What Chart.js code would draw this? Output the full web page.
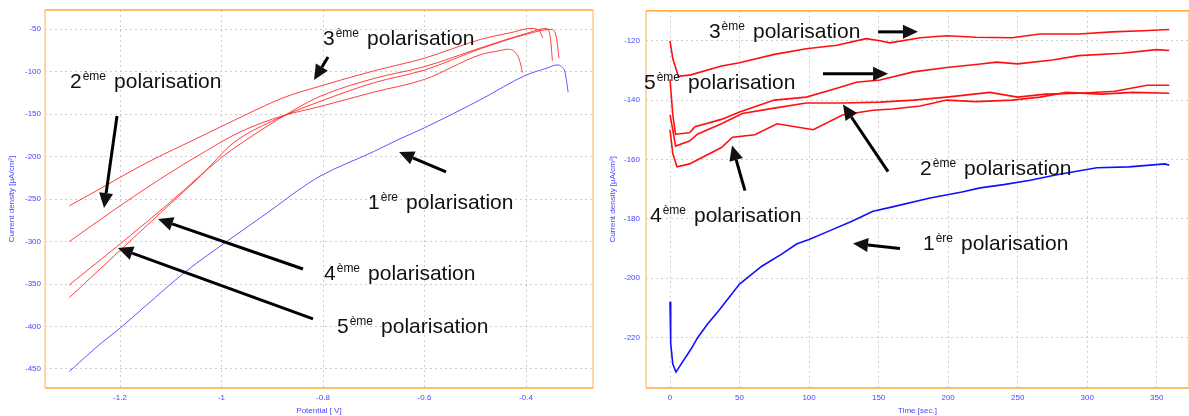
<!DOCTYPE html>
<html lang="fr">
<head>
  <meta charset="UTF-8" />
  <title>Polarisations</title>
  <!-- Chart.js -->
  <script src="https://cdn.jsdelivr.net/npm/chart.js"></script>
  <style>
    html, body { margin: 0; padding: 0; background: #fff; }
    body { width: 1189px; height: 416px; position: relative; overflow: hidden; }
    #potentialChart { position: absolute; left: 0; top: 0; }
    #timeChart { position: absolute; left: 594px; top: 0; }
  </style>
</head>
<body>
  <canvas id="potentialChart" width="594" height="416"></canvas>
  <canvas id="timeChart" width="595" height="416"></canvas>

  <script>
    // ---- Left panel: current density vs potential ----
    const potentialTicks = [-1.2, -1, -0.8, -0.6, -0.4];
    const potCurrentTicks = [-50, -100, -150, -200, -250, -300, -350, -400, -450];

    // 1ère polarisation (blue)
    const pot1 = [-1.30, -1.24, -1.20, -1.15, -1.07, -0.99, -0.90, -0.85, -0.806, -0.70, -0.652, -0.60, -0.49, -0.40, -0.36, -0.339, -0.33, -0.323, -0.317];
    const cur1 = [-453, -421, -402, -376, -335, -300, -262, -240, -223, -194, -180, -166, -133, -104, -96, -92, -94, -101, -124];
    // 3ème polarisation
    const pot3 = [-1.30, -1.24, -1.15, -1.04, -0.95, -0.88, -0.806, -0.70, -0.60, -0.49, -0.43, -0.39, -0.375, -0.367];
    const cur3 = [-258, -238, -208, -176, -150, -131, -117, -99, -84, -62, -54, -49, -51, -60];
    // 2ème polarisation
    const pot2 = [-1.30, -1.21, -1.12, -1.03, -0.96, -0.88, -0.806, -0.70, -0.60, -0.49, -0.45, -0.437, -0.42, -0.412, -0.407];
    const cur2 = [-300, -262, -226, -193, -170, -152, -141, -124, -109, -80, -75, -73.5, -78, -88, -101];
    // 5ème polarisation
    const pot5 = [-1.30, -1.19, -1.10, -1.00, -0.92, -0.86, -0.806, -0.70, -0.60, -0.49, -0.40, -0.36, -0.352, -0.348];
    const cur5 = [-351, -298, -253, -201, -168, -146, -129, -108, -94, -72, -55, -49, -60, -87];
    // 4ème polarisation
    const pot4 = [-1.30, -1.21, -1.12, -1.04, -0.977, -0.90, -0.806, -0.70, -0.60, -0.49, -0.40, -0.35, -0.34, -0.335];
    const cur4 = [-366, -316, -266, -222, -184, -158, -135, -113, -98, -73, -56, -50, -60, -84];

    // ---- Right panel: current density vs time ----
    const timeTicks = [0, 50, 100, 150, 200, 250, 300, 350];
    const timeCurrentTicks = [-120, -140, -160, -180, -200, -220];

    const timeBlue = [0, 0.5, 2, 4.3, 8, 15, 20, 27, 35, 50, 66, 80, 91, 100, 115, 130, 146, 160, 187, 210, 223, 240, 259, 280, 307, 330, 356, 359];
    const curBlue = [-208, -222, -229, -231.7, -229, -224, -220, -215.5, -211, -202, -196, -192, -188.5, -187, -184, -181, -177.5, -176, -173, -171, -169.6, -168.5, -167, -165, -162.8, -162.5, -161.5, -162];

    const timeRed3 = [0, 2, 6, 15, 37, 50, 75, 98, 120, 141, 151, 158, 180, 199, 220, 246, 266, 294, 318, 340, 359];
    const curRed3 = [-120, -126, -132, -131.5, -128.5, -127.4, -124.6, -122.7, -121.5, -119.3, -120, -120.7, -119, -118.3, -118.8, -119, -117.7, -117.7, -117, -116.6, -116.2];

    const timeRed5 = [0, 2, 4, 14, 18, 37, 50, 75, 98, 120, 134, 151, 175, 199, 220, 235, 250, 275, 294, 325, 350, 359];
    const curRed5 = [-133, -145, -151.5, -151, -149, -146.5, -144, -140, -139, -136, -134, -133.2, -130.5, -129, -128, -127.2, -127.8, -126.5, -125, -124.2, -123, -123.3];

    const timeRed2 = [0, 2, 4, 14, 20, 37, 52, 75, 98, 124, 151, 175, 199, 230, 250, 270, 294, 320, 343, 359];
    const curRed2 = [-145, -150, -155.5, -153.8, -151.4, -148, -144.5, -142.7, -141, -141, -140.7, -140, -139, -137.4, -139, -138, -137.7, -137, -135, -135];

    const timeRed4 = [0, 2, 5, 14, 37, 45, 61, 77, 90, 103, 124, 146, 160, 180, 199, 220, 246, 266, 285, 310, 333, 359];
    const curRed4 = [-150, -158, -162.5, -161.5, -156, -152.5, -151.7, -148, -149, -150, -145, -143.4, -143, -142, -140, -140.5, -140, -139, -137.4, -138, -137.4, -137.7];

    // Annotations (text anchor and arrow in data units)
    const leftNotes = [
      { num: '2', sup: 'ème', x: -1.2985, y: -119.1, from: [-1.2059, -152.1], to: [-1.2315, -260.4] },
      { num: '3', sup: 'ème', x: -0.80, y: -68.5, from: [-0.7901, -82.6], to: [-0.8177, -109.7] },
      { num: '1', sup: 'ère', x: -0.7113, y: -261.6, from: [-0.5576, -218.0], to: [-0.6502, -194.5] },
      { num: '4', sup: 'ème', x: -0.798, y: -345.2, from: [-0.8394, -332.3], to: [-1.1251, -273.4] },
      { num: '5', sup: 'ème', x: -0.7724, y: -407.6, from: [-0.8197, -391.1], to: [-1.2039, -307.5] }
    ];
    const rightNotes = [
      { num: '3', sup: 'ème', x: 28.0, y: -119.0, from: [149.6, -117.0], to: [178.3, -117.0] },
      { num: '5', sup: 'ème', x: -18.7, y: -136.1, from: [110.0, -131.1], to: [156.8, -131.1] },
      { num: '2', sup: 'ème', x: 179.8, y: -165.4, from: [156.8, -164.1], to: [124.4, -141.5] },
      { num: '4', sup: 'ème', x: -14.4, y: -181.1, from: [53.9, -170.5], to: [44.6, -155.3] },
      { num: '1', sup: 'ère', x: 181.9, y: -190.6, from: [165.4, -190.0], to: [131.6, -188.3] }
    ];

    const FONT = '"Liberation Sans", Arial, sans-serif';
    const tickBlue = '#4646ff';

    function zip(xs, ys) {
      return xs.map((x, i) => ({ x: x, y: ys[i] }));
    }

    function fmt(v) {
      return String(Math.round(v * 100) / 100);
    }

    function drawArrow(ctx, x1, y1, x2, y2) {
      const ang = Math.atan2(y2 - y1, x2 - x1);
      const head = 15, half = 7;
      const bx = x2 - head * Math.cos(ang), by = y2 - head * Math.sin(ang);
      ctx.beginPath();
      ctx.moveTo(x1, y1);
      ctx.lineTo(bx, by);
      ctx.stroke();
      ctx.beginPath();
      ctx.moveTo(x2, y2);
      ctx.lineTo(bx + half * Math.sin(ang), by - half * Math.cos(ang));
      ctx.lineTo(bx - half * Math.sin(ang), by + half * Math.cos(ang));
      ctx.closePath();
      ctx.fill();
    }

    // frame + big labels with arrows
    function framePlugin(notes) {
      return {
        id: 'frameNotes',
        afterDraw(chart) {
          const { ctx, chartArea: a, scales: { x, y } } = chart;
          ctx.save();
          ctx.lineWidth = 2;
          ctx.strokeStyle = '#ffd6a6';
          ctx.beginPath();
          ctx.moveTo(a.left, a.top); ctx.lineTo(a.left, a.bottom);
          ctx.moveTo(a.right, a.top); ctx.lineTo(a.right, a.bottom);
          ctx.stroke();
          ctx.lineWidth = 1.5;
          ctx.strokeStyle = '#ffa63c';
          ctx.beginPath();
          ctx.moveTo(a.left, a.top); ctx.lineTo(a.right, a.top);
          ctx.moveTo(a.left, a.bottom); ctx.lineTo(a.right, a.bottom);
          ctx.stroke();

          ctx.fillStyle = '#111';
          ctx.strokeStyle = '#000';
          ctx.lineWidth = 3;
          ctx.textBaseline = 'alphabetic';
          ctx.textAlign = 'left';
          notes.forEach(n => {
            const px = x.getPixelForValue(n.x), py = y.getPixelForValue(n.y);
            ctx.font = '21px ' + FONT;
            ctx.fillText(n.num, px, py);
            let cx = px + ctx.measureText(n.num).width + 1;
            ctx.font = '12px ' + FONT;
            ctx.fillText(n.sup, cx, py - 8);
            cx += ctx.measureText(n.sup).width + 8;
            ctx.font = '21px ' + FONT;
            ctx.fillText('polarisation', cx, py);
            drawArrow(ctx,
              x.getPixelForValue(n.from[0]), y.getPixelForValue(n.from[1]),
              x.getPixelForValue(n.to[0]), y.getPixelForValue(n.to[1]));
          });
          ctx.restore();
        }
      };
    }

    function makeScales(c) {
      const small = { family: FONT, size: 8 };
      return {
        x: {
          type: 'linear', min: c.xMin, max: c.xMax,
          afterBuildTicks: s => { s.ticks = c.xTicks.map(v => ({ value: v })); },
          afterFit: s => { s.height = 28; },
          grid: { color: '#cdcdcd', drawTicks: false },
          border: { display: false, dash: [2, 3] },
          ticks: { color: tickBlue, font: small, padding: 5, maxRotation: 0, autoSkip: false, callback: v => fmt(v) },
          title: { display: true, text: c.xTitle, color: tickBlue, font: small, padding: 0 }
        },
        y: {
          type: 'linear', min: c.yMin, max: c.yMax,
          afterBuildTicks: s => { s.ticks = c.yTicks.map(v => ({ value: v })); },
          afterFit: s => { s.width = c.yWidth; },
          grid: { color: '#cdcdcd', drawTicks: false },
          border: { display: false, dash: [2, 3] },
          ticks: { color: tickBlue, font: small, padding: c.yPad, autoSkip: false, callback: v => fmt(v) },
          title: { display: true, text: 'Current density [µA/cm²]', color: tickBlue, font: small, padding: { top: c.titlePad, bottom: 0 } }
        }
      };
    }

    function line(data, color, width, smooth) {
      return {
        data: data,
        borderColor: color,
        borderWidth: width,
        pointRadius: 0,
        fill: false,
        cubicInterpolationMode: smooth ? 'monotone' : 'default',
        tension: 0
      };
    }

    const common = {
      responsive: false,
      animation: false,
      events: [],
      plugins: { legend: { display: false }, tooltip: { enabled: false } }
    };

    new Chart(document.getElementById('potentialChart'), {
      type: 'line',
      data: {
        datasets: [
          line(zip(pot1, cur1), 'rgba(60,60,255,0.85)', 1, true),
          line(zip(pot3, cur3), 'rgba(255,30,30,0.85)', 1, true),
          line(zip(pot2, cur2), 'rgba(255,30,30,0.85)', 1, true),
          line(zip(pot5, cur5), 'rgba(255,30,30,0.85)', 1, true),
          line(zip(pot4, cur4), 'rgba(255,30,30,0.85)', 1, true)
        ]
      },
      options: Object.assign({}, common, {
        layout: { padding: { top: 10, right: 1, left: 0, bottom: 0 } },
        scales: makeScales({
          xMin: -1.3478, xMax: -0.268, xTicks: potentialTicks, xTitle: 'Potential [ V]',
          yMin: -472.4, yMax: -27.3, yTicks: potCurrentTicks, yWidth: 45, yPad: 4, titlePad: 7
        })
      }),
      plugins: [framePlugin(leftNotes)]
    });

    new Chart(document.getElementById('timeChart'), {
      type: 'line',
      data: {
        datasets: [
          line(zip(timeBlue, curBlue), '#1010ff', 1.6, false),
          line(zip(timeRed3, curRed3), '#ff1010', 1.6, false),
          line(zip(timeRed5, curRed5), '#ff1010', 1.6, false),
          line(zip(timeRed2, curRed2), '#ff1010', 1.6, false),
          line(zip(timeRed4, curRed4), '#ff1010', 1.6, false)
        ]
      },
      options: Object.assign({}, common, {
        layout: { padding: { top: 10, right: 0, left: 0, bottom: 0 } },
        scales: makeScales({
          xMin: -17.26, xMax: 373.2, xTicks: timeTicks, xTitle: 'Time [sec.]',
          yMin: -237.05, yMax: -109.9, yTicks: timeCurrentTicks, yWidth: 52, yPad: 6, titlePad: 14
        })
      }),
      plugins: [framePlugin(rightNotes)]
    });
  </script>
</body>
</html>
